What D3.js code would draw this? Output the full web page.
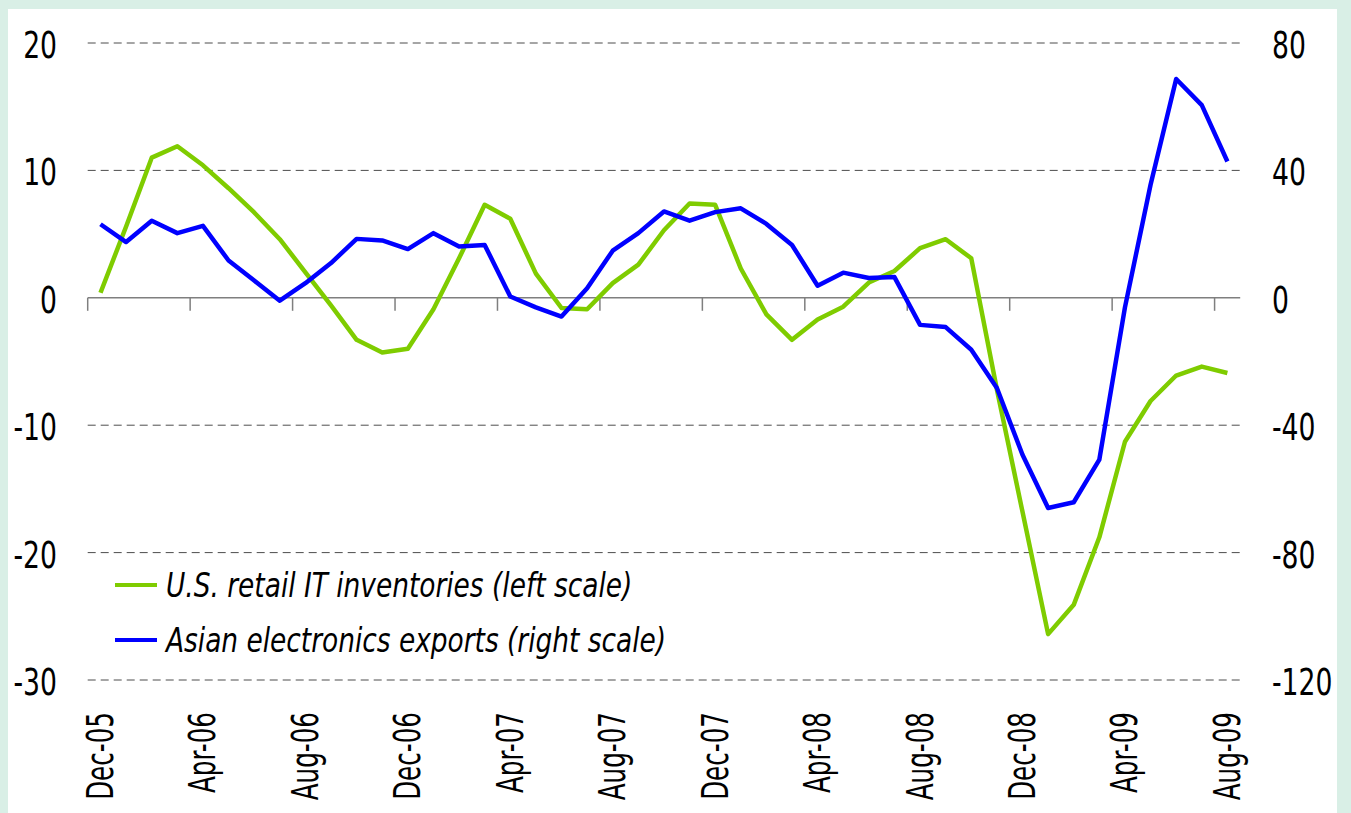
<!DOCTYPE html>
<html>
<head>
<meta charset="utf-8">
<script src="https://cdn.jsdelivr.net/npm/d3@7"></script>
<style>
  html, body { margin: 0; padding: 0; background: #d9efe6; }
  svg { display: block; }
  .tick-label { font-family: "Liberation Sans Narrow", "DejaVu Sans Condensed", "Arial Narrow", sans-serif; font-stretch: condensed; fill: #000; }
  .legend-label { font-family: "Liberation Sans Narrow", "DejaVu Sans Condensed", "Arial Narrow", sans-serif; font-stretch: condensed; font-style: italic; fill: #000; }
</style>
</head>
<body>
<svg id="chart" width="1351" height="813"></svg>
<script>
// ---- data ----
const months = [
  "Dec-05","Jan-06","Feb-06","Mar-06","Apr-06","May-06","Jun-06","Jul-06","Aug-06","Sep-06","Oct-06","Nov-06",
  "Dec-06","Jan-07","Feb-07","Mar-07","Apr-07","May-07","Jun-07","Jul-07","Aug-07","Sep-07","Oct-07","Nov-07",
  "Dec-07","Jan-08","Feb-08","Mar-08","Apr-08","May-08","Jun-08","Jul-08","Aug-08","Sep-08","Oct-08","Nov-08",
  "Dec-08","Jan-09","Feb-09","Mar-09","Apr-09","May-09","Jun-09","Jul-09","Aug-09"
];
const usRetailInventories = [
  0.4, 5.6, 11.0, 11.9, 10.4, 8.6, 6.7, 4.6, 2.0, -0.6, -3.3, -4.3,
  -4.0, -0.9, 3.1, 7.3, 6.2, 1.9, -0.8, -0.9, 1.15, 2.6, 5.3, 7.4,
  7.3, 2.3, -1.3, -3.3, -1.7, -0.7, 1.2, 2.1, 3.9, 4.6, 3.1, -7.2,
  -16.8, -26.4, -24.1, -18.8, -11.3, -8.1, -6.1, -5.4, -5.9
];
const asianExports = [
  23.1, 17.5, 24.2, 20.3, 22.6, 11.7, 5.4, -0.9, 4.6, 10.9, 18.5, 18.0,
  15.3, 20.3, 16.1, 16.6, 0.4, -3.0, -5.9, 3.0, 14.8, 20.3, 27.1, 24.2,
  26.9, 28.1, 23.2, 16.6, 3.8, 7.9, 6.2, 6.5, -8.5, -9.2, -16.3, -28.3,
  -49.3, -66.0, -64.2, -50.8, -3.0, 35.5, 68.7, 60.5, 42.8
];
const xTickLabels = ["Dec-05","Apr-06","Aug-06","Dec-06","Apr-07","Aug-07","Dec-07","Apr-08","Aug-08","Dec-08","Apr-09","Aug-09"];
const leftTicks = [20, 10, 0, -10, -20, -30];
const rightTicks = [80, 40, 0, -40, -80, -120];
const seriesNames = ["U.S. retail IT inventories (left scale)", "Asian electronics exports (right scale)"];
const seriesColors = ["#7fcc00", "#0000ff"];

// ---- layout ----
const W = 1351, H = 813;
const plot = { left: 87.7, right: 1240.2, top: 43, bottom: 680 };
const narrow = 0.8;   // horizontal squeeze for the condensed look

const svg = d3.select("#chart");
svg.append("rect").attr("width", W).attr("height", H).attr("fill", "#d9efe6");
svg.append("rect").attr("x", 8).attr("y", 9).attr("width", 1329).attr("height", H).attr("fill", "#ffffff");

const x = d3.scaleBand().domain(months).range([plot.left, plot.right]).padding(0);
const bw = x.bandwidth();
const xc = m => x(m) + bw / 2;
const yL = d3.scaleLinear().domain([-30, 20]).range([plot.bottom, plot.top]);
const yR = d3.scaleLinear().domain([-120, 80]).range([plot.bottom, plot.top]);

// gridlines
svg.append("g").selectAll("line")
  .data(leftTicks.filter(v => v !== 0))
  .join("line")
  .attr("x1", plot.left).attr("x2", plot.right)
  .attr("y1", d => yL(d)).attr("y2", d => yL(d))
  .attr("stroke", "#4d4d4d").attr("stroke-width", 1)
  .attr("stroke-dasharray", "8,5");

// zero axis line
svg.append("line")
  .attr("x1", plot.left).attr("x2", plot.right)
  .attr("y1", yL(0)).attr("y2", yL(0))
  .attr("stroke", "#7f7f7f").attr("stroke-width", 1.5);

// category ticks (every 4 months, at category boundary)
svg.append("g").selectAll("line")
  .data(xTickLabels)
  .join("line")
  .attr("x1", d => x(d)).attr("x2", d => x(d))
  .attr("y1", yL(0)).attr("y2", yL(0) + 13)
  .attr("stroke", "#7f7f7f").attr("stroke-width", 1.5);

// left tick labels
svg.append("g").selectAll("text")
  .data(leftTicks)
  .join("text")
  .attr("class", "tick-label")
  .attr("transform", d => `translate(57,${yL(d) + 15}) scale(${narrow},1)`)
  .attr("text-anchor", "end")
  .attr("font-size", 37)
  .text(d => String(d));

// right tick labels
svg.append("g").selectAll("text")
  .data(rightTicks)
  .join("text")
  .attr("class", "tick-label")
  .attr("transform", d => `translate(1272,${yR(d) + 15}) scale(${narrow},1)`)
  .attr("text-anchor", "start")
  .attr("font-size", 37)
  .text(d => String(d));

// x labels rotated
svg.append("g").selectAll("text")
  .data(xTickLabels)
  .join("text")
  .attr("class", "tick-label")
  .attr("transform", d => `translate(${xc(d) - 1},712) rotate(-90) scale(0.74,1)`)
  .attr("text-anchor", "end")
  .attr("dy", 13.5)
  .attr("font-size", 37)
  .text(d => d);

// lines
const lineL = d3.line().x((d, i) => xc(months[i])).y(d => yL(d));
const lineR = d3.line().x((d, i) => xc(months[i])).y(d => yR(d));

svg.append("path").datum(usRetailInventories)
  .attr("d", lineL).attr("fill", "none")
  .attr("stroke", seriesColors[0]).attr("stroke-width", 4.5)
  .attr("stroke-linejoin", "round");

svg.append("path").datum(asianExports)
  .attr("d", lineR).attr("fill", "none")
  .attr("stroke", seriesColors[1]).attr("stroke-width", 4.5)
  .attr("stroke-linejoin", "round");

// legend
const legY = [585, 640];
const leg = svg.append("g");
seriesNames.forEach((name, i) => {
  leg.append("line")
    .attr("x1", 115).attr("x2", 157)
    .attr("y1", legY[i]).attr("y2", legY[i])
    .attr("stroke", seriesColors[i]).attr("stroke-width", 4);
  leg.append("text")
    .attr("class", "legend-label")
    .attr("transform", `translate(166,${legY[i] + 12}) scale(0.89,1)`)
    .attr("font-size", 33)
    .text(name);
});
</script>
</body>
</html>
